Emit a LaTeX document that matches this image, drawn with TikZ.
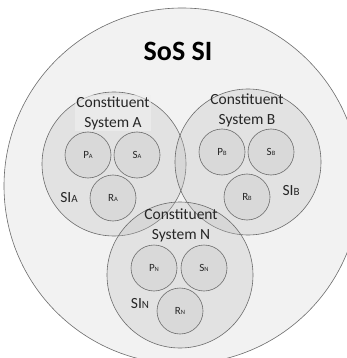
\documentclass[tikz,border=0pt]{standalone}
\usepackage{fontspec}
\setmainfont{Carlito}
\begin{document}
\begin{tikzpicture}[x=1pt,y=-1pt,
  outline/.style={draw=black!58,line width=0.6pt},
  sosring/.style={outline,fill=black!5},
  csring/.style={outline,fill=black!25,fill opacity=0.3},
  part/.style={outline,fill=black!15,circle,minimum size=46pt,inner sep=0pt,
    font=\fontsize{11}{12}\selectfont,text=black!85},
  cstitle/.style={align=center,font=\fontsize{15.5}{20}\selectfont,text=black!85,inner sep=1pt},
  silabel/.style={font=\fontsize{15.5}{18}\selectfont,text=black!85,inner sep=0pt},
]
\useasboundingbox (0,0) rectangle (347,358);
% white page and the SoS circle
\fill[white] (0,0) rectangle (347,358);
\begin{scope}
  \clip (0,0) rectangle (347,358);
  \draw[sosring] (182,186) circle (178);
\end{scope}
\node[font=\bfseries\fontsize{28}{30}\selectfont] (sos) at (178,51) {SoS SI};

% the three constituent systems
\draw[csring] (114,164) circle (72);
\draw[csring] (248,162) circle (73);
\draw[csring] (180,275) circle (73);

\node[cstitle,fill=black!6,fill opacity=0.6,text opacity=1] (ta) at (113,113) {Constituent\\System A};
\node[cstitle] (tb) at (247,110) {Constituent\\System B};
\node[cstitle] (tn) at (181,225) {Constituent\\System N};

\newcommand{\sublbl}[2]{#1{\fontsize{6.5}{7}\selectfont\raisebox{-0.4pt}{#2}}}

% parts of system A
\node[part] (pa) at (88,155) {\sublbl{P}{A}};
\node[part] (sa) at (137,155) {\sublbl{S}{A}};
\node[part] (ra) at (113,198) {\sublbl{R}{A}};
% parts of system B
\node[part] (pb) at (222,152) {\sublbl{P}{B}};
\node[part] (sb) at (271,152) {\sublbl{S}{B}};
\node[part] (rb) at (247,197) {\sublbl{R}{B}};
% parts of system N
\node[part] (pn) at (154,268) {\sublbl{P}{N}};
\node[part] (sn) at (204,268) {\sublbl{S}{N}};
\node[part] (rn) at (180,311) {\sublbl{R}{N}};

% system integration labels
\node[silabel] (sia) at (69,198) {SI{\fontsize{11}{12}\selectfont A}};
\node[silabel] (sib) at (291,191) {SI{\fontsize{11}{12}\selectfont B}};
\node[silabel] (sin) at (140,304) {SI{\fontsize{11}{12}\selectfont N}};
\end{tikzpicture}
\end{document}
